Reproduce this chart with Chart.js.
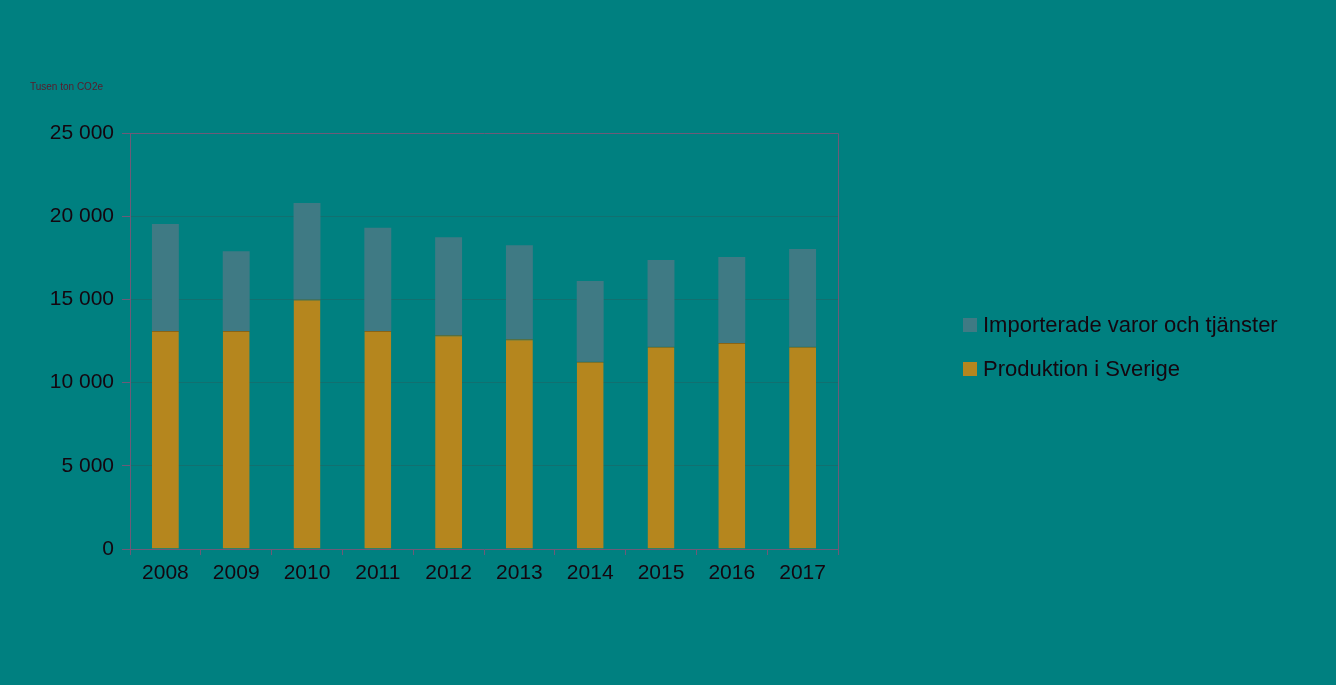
<!DOCTYPE html>
<html>
<head>
<meta charset="utf-8">
<script src="https://cdn.jsdelivr.net/npm/chart.js@4"></script>
<style>
  html, body { margin: 0; padding: 0; background: #008080; }
  #wrap { width: 1336px; height: 685px; }
</style>
</head>
<body>
<div id="wrap"><canvas id="c" width="1336" height="685"></canvas></div>
<script>
  // ---------- Data ----------
  const years = ["2008", "2009", "2010", "2011", "2012", "2013", "2014", "2015", "2016", "2017"];
  const produktion = [13100, 13100, 15000, 13100, 12850, 12600, 11250, 12150, 12380, 12150];
  const importerade = [6430, 4800, 5800, 6200, 5890, 5650, 4850, 5220, 5170, 5880];
  const yTicks = [0, 5000, 10000, 15000, 20000, 25000];

  const AXIS = "#6e5a78";
  const TEXT = "#14060f";
  const FONT = "'Liberation Sans', Arial, sans-serif";

  const fmt = (v) => String(v).replace(/\B(?=(\d{3})+(?!\d))/g, " ");

  // frame + unit label + legend
  const extras = {
    id: "extras",
    afterDraw(chart) {
      const { ctx, chartArea: a } = chart;
      ctx.save();
      ctx.strokeStyle = AXIS;
      ctx.lineWidth = 1;
      ctx.beginPath();
      ctx.moveTo(a.left, a.top + 0.5);
      ctx.lineTo(a.right + 0.5, a.top + 0.5);
      ctx.lineTo(a.right + 0.5, a.bottom);
      ctx.stroke();

      ctx.fillStyle = "#5a1a2a";
      ctx.font = "10px " + FONT;
      ctx.textBaseline = "middle";
      ctx.fillText("Tusen ton CO2e", 30, 87);

      // legend (reverse order like the reference)
      const ds = chart.data.datasets;
      [ds[1], ds[0]].forEach((d, i) => {
        const y = 325 + i * 44;
        ctx.fillStyle = d.backgroundColor;
        ctx.fillRect(963, y - 7, 14, 14);
        ctx.fillStyle = TEXT;
        ctx.font = "22px " + FONT;
        ctx.fillText(d.label, 983, y + 1);
      });
      ctx.restore();
    },
  };

  new Chart(document.getElementById("c"), {
    type: "bar",
    data: {
      labels: years,
      datasets: [
        { label: "Produktion i Sverige", data: produktion, backgroundColor: "#b5861e",
          borderColor: "#8a6414", borderWidth: { top: 1 }, barPercentage: 0.38, categoryPercentage: 1 },
        { label: "Importerade varor och tjänster", data: importerade, backgroundColor: "#3f7a84",
          borderWidth: 0, barPercentage: 0.38, categoryPercentage: 1 },
      ],
    },
    options: {
      responsive: false,
      animation: false,
      layout: { padding: { left: 0, right: 498, top: 133, bottom: 0 } },
      plugins: { legend: { display: false }, tooltip: { enabled: false } },
      scales: {
        x: {
          stacked: true,
          grid: { display: true, drawOnChartArea: false, offset: true, color: AXIS, tickLength: 6 },
          border: { color: AXIS },
          ticks: { color: TEXT, font: { family: FONT, size: 21 }, padding: 6 },
          afterFit: (s) => { s.height = 136; },
        },
        y: {
          stacked: true,
          min: 0, max: 25000,
          afterBuildTicks: (s) => { s.ticks = yTicks.map((v) => ({ value: v })); },
          grid: { color: "rgba(20,110,110,0.9)", tickColor: AXIS, tickLength: 8 },
          border: { color: AXIS },
          ticks: { color: TEXT, font: { family: FONT, size: 21 }, padding: 8, callback: (v) => fmt(v) },
          afterFit: (s) => { s.width = 130; },
        },
      },
    },
    plugins: [extras],
  });
</script>
</body>
</html>
